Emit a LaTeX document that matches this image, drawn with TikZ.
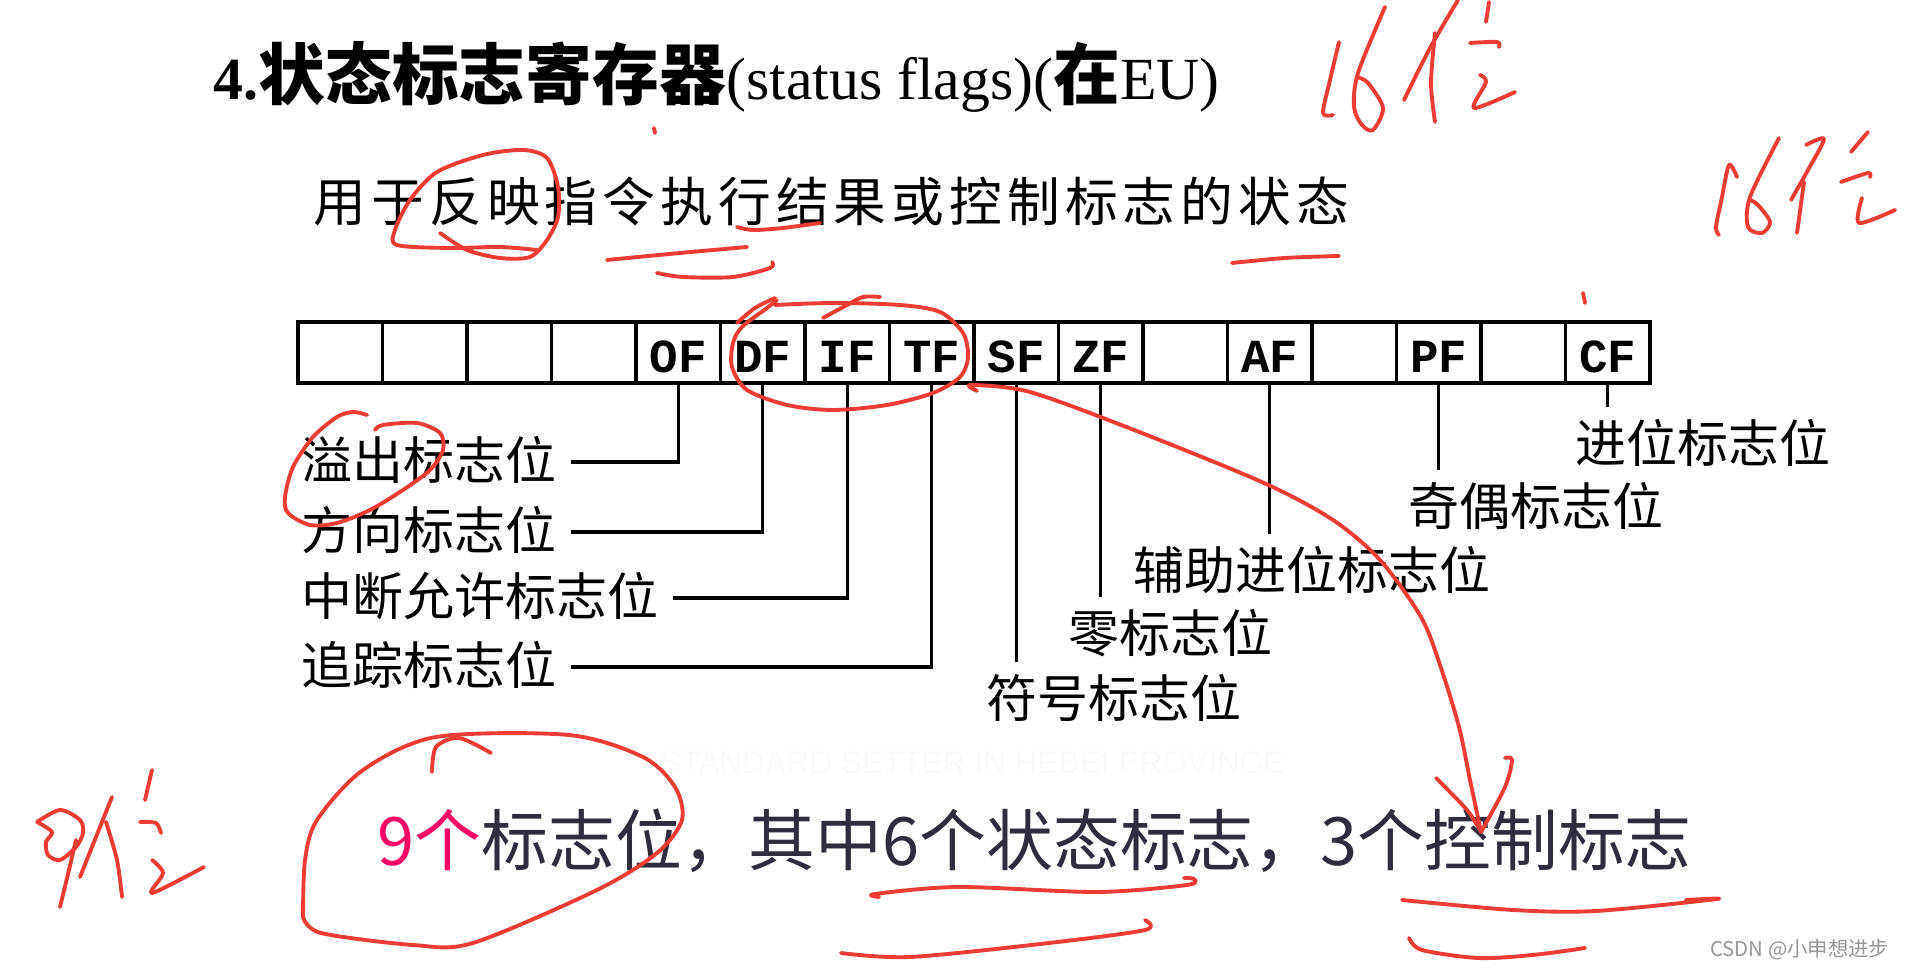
\documentclass[tikz,border=0pt]{standalone}
\usepackage{fontspec}
\setmainfont{Liberation Serif}
\setsansfont{Liberation Sans}
\setmonofont{Liberation Mono}
\newfontfamily\cjk{Noto Sans CJK SC}
\definecolor{penred}{RGB}{236,60,52}
\definecolor{hotpink}{RGB}{255,0,102}
\definecolor{slate}{RGB}{46,45,62}
\definecolor{markgray}{RGB}{150,150,150}
\newcommand{\lblfont}{\cjk\fontsize{14.5}{16}\selectfont}
\newcommand{\ttlcjk}{\cjk\bfseries\fontsize{19}{21}\selectfont}
\tikzset{
  cell/.style={draw, line width=0.9pt, minimum width=0.845cm, minimum height=0.61cm,
    inner sep=0pt, outer sep=0pt},
  flagtxt/.style={inner sep=0pt, font=\ttfamily\bfseries\fontsize{13.5}{15}\selectfont},
  leader/.style={line width=0.9pt},
  flaglbl/.style={inner sep=0pt, font=\lblfont, text height=11.6pt, text depth=1.7pt},
  redpen/.style={draw=penred, line width=1.1pt, line cap=round, line join=round},
}

\begin{document}
\begin{tikzpicture}[x=0.01cm, y=-0.01cm]
\fill[white] (0,0) rectangle (1906,971);
\useasboundingbox (0,0) rectangle (1906,971);

% title and subtitle
\node[anchor=base west, inner sep=0pt, font=\fontsize{17}{19}\selectfont] (title) at (213,100)
  {\textbf{4.}{\ttlcjk 状态标志寄存器}(status flags)({\ttlcjk 在}EU)};
\foreach \ch [count=\k from 0] in {用,于,反,映,指,令,执,行,结,果,或,控,制,标,志,的,状,态}
  \node[anchor=base, inner sep=0pt, font=\cjk\fontsize{15}{17}\selectfont] (sub\k) at (340+57.8*\k,222) {\ch};

% the 16 bits of the register
\foreach \i/\flag in {0/{},1/{},2/{},3/{},4/OF,5/DF,6/IF,7/TF,8/SF,9/ZF,10/{},11/AF,12/{},13/PF,14/{},15/CF} {
  \node[cell] (c\i) at ({298+84.5*(\i+0.5)},352.5) {};
  \node[flagtxt] at ([yshift=-0.04cm]c\i.center) {\flag};
}

% flag names
\node[flaglbl, anchor=west] (ofl) at (301,462) {溢出标志位};
\node[flaglbl, anchor=west] (dfl) at (301,532) {方向标志位};
\node[flaglbl, anchor=west] (ifl) at (301,598) {中断允许标志位};
\node[flaglbl, anchor=west] (tfl) at (301,667) {追踪标志位};
\node[flaglbl] (sfl) at (1114,700) {符号标志位};
\node[flaglbl] (zfl) at (1170,635) {零标志位};
\node[flaglbl] (afl) at (1312,572) {辅助进位标志位};
\node[flaglbl] (pfl) at (1536,508) {奇偶标志位};
\node[flaglbl] (cfl) at (1703,445) {进位标志位};

\foreach \c/\l in {4/ofl,5/dfl,6/ifl,7/tfl}
  \draw[leader, shorten >=0.14cm] (c\c.south) |- (\l.east);
\foreach \c/\l in {8/sfl,9/zfl,11/afl,13/pfl,15/cfl}
  \draw[leader, shorten >=0.14cm] (c\c.south) -- (c\c.south |- \l.north);

% summary line and marks
\node[text=gray!5, font=\sffamily\fontsize{9}{10}\selectfont] (wm) at (972,763) {STANDARD SETTER IN HEBEI PROVINCE};
\node[anchor=base west, inner sep=0pt, text=slate, font=\cjk\fontsize{19}{21}\selectfont] (summary) at (377,866)
  {\textcolor{hotpink}{9个}标志位，其中6个状态标志，3个控制标志};
\node[anchor=base east, inner sep=0pt, text=markgray, font=\cjk\fontsize{5.8}{7}\selectfont] (csdn) at (1890,957) {CSDN @小申想进步};

% red pen: 16位 (twice)
\draw[redpen] plot[smooth] coordinates {(1339,42) (1330,80) (1323,113) (1333,115)};
\draw[redpen] plot[smooth] coordinates {(1385,7) (1358,73) (1354,107) (1362,125) (1373,130) (1383,108) (1368,83) (1357,77)};
\draw[redpen] plot[smooth] coordinates {(1458,0) (1430,48) (1404,100)};
\draw[redpen] plot[smooth] coordinates {(1435,33) (1431,83) (1435,122)};
\draw[redpen] (1489,2) -- (1486,22);
\draw[redpen] plot[smooth] coordinates {(1470,43) (1497,42) (1499,47)};
\draw[redpen] plot[smooth] coordinates {(1480,75) (1486,82) (1474,108) (1515,92)};
\draw[redpen] plot[smooth] coordinates {(1737,177) (1729,165) (1722,197) (1716,227) (1719,235)};
\draw[redpen] plot[smooth] coordinates {(1779,138) (1750,197) (1748,227) (1762,233) (1770,222) (1758,205) (1750,200)};
\draw[redpen] plot[smooth] coordinates {(1806,145) (1824,139) (1808,170) (1791,200)};
\draw[redpen] (1804,182) -- (1797,233);
\draw[redpen] (1868,132) -- (1851,152);
\draw[redpen] plot[smooth] coordinates {(1841,182) (1868,173) (1870,177)};
\draw[redpen] plot[smooth] coordinates {(1862,198) (1859,223) (1895,210)};

% red pen: 9位
\draw[redpen] plot[smooth] coordinates {(37,822) (60,810) (80,820) (83,833) (76,847) (60,860) (48,855) (46,842) (52,832) (37,822)};
\draw[redpen] plot[smooth] coordinates {(76,840) (69,870) (60,907)};
\draw[redpen] (112,797) -- (80,877);
\draw[redpen] plot[smooth] coordinates {(106,822) (117,860) (122,897)};
\draw[redpen] (152,770) -- (145,800);
\draw[redpen] plot[smooth] coordinates {(140,822) (156,823) (161,833)};
\draw[redpen] plot[smooth] coordinates {(152,860) (163,873) (152,893) (204,867)};

% red pen: circles and underlines
\draw[redpen] plot[smooth] coordinates {(537,250) (500,247) (450,248) (397,245) (395,230) (410,200) (437,172) (483,155) (523,150) (547,158) (558,187) (558,217) (547,240) (530,257) (500,258) (467,250) (440,233)};
\draw[redpen] plot[smooth] coordinates {(607,260) (680,253) (747,247)};
\draw[redpen] plot[smooth] coordinates {(657,273) (683,277) (733,277) (770,268) (772,262)};
\draw[redpen] plot[smooth] coordinates {(737,227) (753,230) (783,228) (820,223)};
\draw[redpen] plot[smooth] coordinates {(1232,263) (1285,258) (1339,256)};
\draw[redpen] (654,128) -- (655,133);
\draw[redpen] (1583,293) -- (1585,303);
\draw[redpen] plot[smooth] coordinates {(775,305) (833,303) (900,305) (940,312) (963,333) (968,357) (960,377) (933,393) (887,405) (833,410) (787,405) (747,390) (732,367) (733,343) (742,327) (767,308) (777,300)};
\draw[redpen] plot[smooth] coordinates {(737,323) (755,308) (775,298)};
\draw[redpen] plot[smooth] coordinates {(823,318) (847,305) (863,297) (880,297)};
\draw[redpen] plot[smooth] coordinates {(367,415) (353,412) (337,417) (313,437) (293,467) (285,497) (288,513) (310,525) (337,523) (370,510) (403,490) (430,470) (443,450) (440,433) (417,423) (383,425) (375,430)};
\draw[redpen] plot[smooth] coordinates {(977,391) (971,385) (1030,392) (1134,430) (1264,483) (1333,520) (1380,560) (1421,617) (1440,665) (1459,727) (1470,780) (1481,832)};
\draw[redpen] plot[smooth] coordinates {(1436,778) (1467,810) (1481,832)};
\draw[redpen] plot[smooth] coordinates {(1481,832) (1505,787) (1512,760) (1505,758)};
\draw[redpen] plot[smooth] coordinates {(303,917) (305,860) (317,820) (363,770) (436,737) (569,735) (643,757) (675,787) (682,820) (657,853) (597,890) (473,943) (413,945) (321,933) (303,917)};
\draw[redpen] plot[smooth] coordinates {(432,772) (436,747) (459,738) (491,753)};
\draw[redpen] plot[smooth] coordinates {(879,897) (875,894) (958,887) (1097,892) (1187,885) (1194,879) (1184,878)};
\draw[redpen] plot[smooth] coordinates {(841,953) (910,957) (1049,943) (1145,930) (1145,920)};
\draw[redpen] plot[smooth] coordinates {(1402,900) (1513,910) (1596,911) (1717,899) (1686,900)};
\draw[redpen] plot[smooth] coordinates {(1409,938) (1422,950) (1478,958) (1533,955) (1585,948)};
\end{tikzpicture}
\end{document}
